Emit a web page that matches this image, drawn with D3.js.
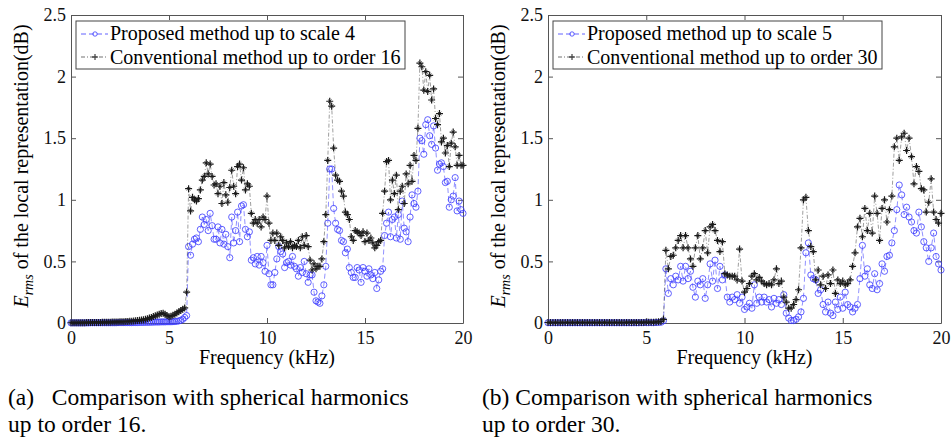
<!DOCTYPE html>
<html><head><meta charset="utf-8">
<script src="https://cdn.jsdelivr.net/npm/d3@7"></script>
<style>
body{margin:0;background:#fff}
svg{display:block}
</style>
</head><body>
<svg id="chart" width="951" height="440"></svg>
<script>
// ---------------- data ----------------
const freqA = d3.range(0, 201).map(i => i / 10);          // kHz, panel (a)
const proposedA = [
0.001,0.001,0.001,0.001,0.001,0.001,0.001,0.001,0.001,0.001,
0.002,0.002,0.002,0.002,0.002,0.002,0.002,0.002,0.002,0.002,
0.002,0.002,0.002,0.002,0.003,0.003,0.003,0.003,0.003,0.003,
0.003,0.003,0.004,0.004,0.004,0.005,0.005,0.005,0.006,0.006,
0.006,0.007,0.007,0.008,0.008,0.008,0.009,0.009,0.009,0.010,
0.010,0.010,0.011,0.012,0.014,0.017,0.022,0.030,0.045,0.060,
0.62,0.55,0.64,0.68,0.69,0.66,0.76,0.86,0.80,0.84,
0.75,0.89,0.79,0.68,0.68,0.78,0.65,0.76,0.64,0.72,
0.62,0.53,0.86,0.65,0.75,0.90,0.66,0.95,0.96,0.76,
0.70,0.74,0.51,0.53,0.48,0.54,0.47,0.54,0.49,0.42,
0.63,0.40,0.31,0.31,0.41,0.52,0.62,0.58,0.56,0.45,
0.49,0.50,0.47,0.54,0.46,0.44,0.38,0.45,0.41,0.50,
0.40,0.33,0.39,0.39,0.25,0.18,0.17,0.16,0.22,0.31,
0.46,0.81,1.25,1.25,0.93,0.81,0.76,0.75,0.67,0.66,
0.57,0.60,0.45,0.41,0.37,0.37,0.45,0.43,0.33,0.45,
0.42,0.38,0.44,0.39,0.36,0.41,0.28,0.35,0.42,0.44,
0.71,0.81,0.90,0.70,0.84,0.86,0.69,0.88,0.68,0.99,
0.77,0.74,0.66,0.86,1.04,0.97,0.94,1.07,1.50,1.48,
1.37,1.61,1.65,1.52,1.45,1.60,1.42,1.24,1.29,1.30,
1.27,1.14,1.15,0.94,1.00,1.03,1.18,0.91,0.99,0.92,
0.89];
const conventionalA = [
0.002,0.002,0.002,0.003,0.003,0.003,0.003,0.003,0.004,0.004,
0.004,0.004,0.005,0.005,0.005,0.005,0.006,0.006,0.006,0.007,
0.007,0.008,0.008,0.009,0.009,0.010,0.010,0.011,0.012,0.013,
0.014,0.015,0.017,0.018,0.020,0.022,0.024,0.027,0.030,0.034,
0.040,0.045,0.052,0.058,0.065,0.072,0.078,0.080,0.072,0.060,
0.050,0.055,0.062,0.072,0.082,0.092,0.102,0.112,0.122,0.25,
1.09,0.91,1.02,1.00,0.99,1.01,1.08,1.16,1.19,1.30,
1.21,1.29,1.19,1.12,1.13,1.05,1.11,0.97,1.14,1.04,
0.98,1.10,1.24,1.11,1.05,1.27,1.29,1.16,1.26,1.08,
1.13,1.11,0.89,0.81,0.84,0.81,0.84,0.78,0.86,0.84,
1.03,0.81,0.67,0.73,0.67,0.73,0.63,0.70,0.67,0.61,
0.65,0.62,0.66,0.61,0.63,0.62,0.67,0.61,0.70,0.63,
0.71,0.62,0.51,0.43,0.48,0.44,0.46,0.46,0.52,0.66,
0.88,1.32,1.80,1.76,1.42,1.20,1.16,1.15,1.07,1.03,
0.90,0.88,0.84,0.70,0.67,0.75,0.74,0.73,0.71,0.74,
0.66,0.73,0.67,0.69,0.65,0.61,0.63,0.66,0.67,0.89,
1.07,1.31,1.32,1.00,1.16,1.05,1.20,0.92,1.07,1.11,
0.97,1.21,1.13,1.28,1.15,1.36,1.32,1.58,2.11,2.08,
1.89,2.04,1.88,2.01,1.81,1.90,1.66,1.61,1.70,1.47,
1.50,1.38,1.44,1.27,1.46,1.55,1.43,1.28,1.36,1.28,
1.28];

const freqB = d3.range(0, 161).map(i => i * 0.125);      // kHz, panel (b)
const proposedB = [
0.002,0.002,0.002,0.002,0.002,0.002,0.002,0.002,0.002,0.002,
0.002,0.002,0.002,0.002,0.002,0.002,0.002,0.002,0.002,0.002,
0.002,0.002,0.002,0.002,0.002,0.002,0.002,0.002,0.002,0.002,
0.002,0.002,0.002,0.002,0.002,0.002,0.002,0.002,0.003,0.003,
0.003,0.003,0.003,0.003,0.004,0.005,0.006,0.018,
0.44,0.24,0.36,0.31,0.38,0.35,0.46,0.34,0.46,0.36,
0.42,0.29,0.21,0.34,0.31,0.36,0.20,0.31,0.48,0.34,
0.51,0.28,0.46,0.35,0.39,0.21,0.17,0.21,0.19,0.23,
0.16,0.21,0.11,0.13,0.16,0.12,0.31,0.16,0.21,0.17,
0.21,0.17,0.19,0.13,0.20,0.16,0.19,0.15,0.23,0.08,
0.04,0.02,0.02,0.03,0.05,0.09,0.20,0.57,0.65,0.39,
0.36,0.35,0.24,0.27,0.15,0.09,0.17,0.08,0.06,0.17,
0.11,0.21,0.12,0.25,0.15,0.13,0.09,0.12,0.15,0.36,
0.63,0.38,0.44,0.31,0.28,0.40,0.27,0.32,0.48,0.42,
0.54,0.55,0.65,0.75,0.92,1.12,1.04,0.88,0.94,0.86,
0.82,0.75,0.73,0.90,0.78,0.66,0.61,0.50,0.61,0.73,
0.54,0.48,0.43];
const conventionalB = [
0.004,0.004,0.004,0.004,0.004,0.004,0.004,0.004,0.004,0.004,
0.004,0.004,0.004,0.004,0.004,0.004,0.004,0.004,0.004,0.004,
0.004,0.004,0.004,0.004,0.004,0.004,0.004,0.004,0.004,0.004,
0.004,0.004,0.004,0.005,0.005,0.005,0.005,0.005,0.005,0.005,
0.006,0.006,0.006,0.007,0.008,0.010,0.012,0.030,
0.59,0.44,0.54,0.55,0.61,0.67,0.71,0.61,0.71,0.61,
0.52,0.46,0.61,0.71,0.52,0.61,0.75,0.57,0.78,0.80,
0.75,0.67,0.58,0.66,0.40,0.39,0.38,0.38,0.38,0.35,
0.60,0.34,0.25,0.28,0.32,0.38,0.40,0.35,0.37,0.34,
0.32,0.31,0.32,0.31,0.35,0.44,0.32,0.34,0.21,0.17,
0.12,0.12,0.15,0.19,0.27,0.61,1.00,1.02,0.75,0.62,
0.58,0.35,0.43,0.31,0.38,0.28,0.39,0.32,0.43,0.24,
0.35,0.32,0.34,0.31,0.32,0.35,0.46,0.57,0.78,0.85,
0.70,0.93,0.75,0.89,0.73,1.03,0.89,0.67,0.93,1.00,
0.82,0.92,1.03,1.43,1.50,1.32,1.51,1.54,1.40,1.50,
1.35,1.13,1.27,1.23,1.09,1.08,0.90,0.98,1.17,0.90,
0.84,0.81,0.89];

const xTicks = [0, 5, 10, 15, 20];
const yTicks = [0, 0.5, 1, 1.5, 2, 2.5];
const legendA = ["Proposed method up to scale 4", "Conventional method up to order 16"];
const legendB = ["Proposed method up to scale 5", "Conventional method up to order 30"];
const xLabel = "Frequency (kHz)";
const yLabelMain = "E";
const yLabelSub = "rms";
const yLabelRest = " of the local representation(dB)";
const captionA = ["(a)\u00a0\u00a0 Comparison with spherical harmonics", "up to order 16."];
const captionB = ["(b) Comparison with spherical harmonics", "up to order 30."];

// ---------------- font choice (serif, Times-like) ----------------
function hasFont(name) {
  const c = document.createElement("canvas").getContext("2d");
  const s = "mmmmmmmmmmlliWWQ0123456789";
  const res = [];
  for (const base of ["monospace", "sans-serif"]) {
    c.font = `72px ${base}`; const w0 = c.measureText(s).width;
    c.font = `72px "${name}", ${base}`; const w1 = c.measureText(s).width;
    res.push(w0 !== w1);
  }
  return res[0] || res[1];
}
const SERIF = ["Liberation Serif", "Times New Roman", "Tinos", "Times", "Nimbus Roman", "DejaVu Serif", "Noto Serif"]
  .find(hasFont) || "serif";
const FONT = `"${SERIF}", serif`;

// ---------------- drawing ----------------
const svg = d3.select("#chart");
const BLUE = "#3a3aff";
const DARK = "#1a1a1a";

function panel(o) {
  const g = svg.append("g");
  const x = d3.scaleLinear().domain([0, 20]).range([o.left, o.right]);
  const y = d3.scaleLinear().domain([0, 2.5]).range([o.bottom, o.top]);

  g.append("g").attr("transform", `translate(0,${o.bottom})`)
    .call(d3.axisBottom(x).tickValues(xTicks).tickSizeInner(-5).tickSizeOuter(0).tickPadding(8).tickFormat(d => d));
  g.append("g").attr("transform", `translate(${o.left},0)`)
    .call(d3.axisLeft(y).tickValues(yTicks).tickSizeInner(-5).tickSizeOuter(0).tickPadding(5).tickFormat(d => d));
  g.append("g").attr("transform", `translate(0,${o.top})`)
    .call(d3.axisTop(x).tickValues(xTicks).tickSizeInner(-5).tickSizeOuter(0).tickFormat(""));
  g.append("g").attr("transform", `translate(${o.right},0)`)
    .call(d3.axisRight(y).tickValues(yTicks).tickSizeInner(-5).tickSizeOuter(0).tickFormat(""));
  g.selectAll(".domain, .tick line").attr("stroke", "#555").attr("stroke-width", 1);
  g.selectAll(".tick text").attr("font-size", 18).attr("fill", "#111");

  const ptsP = o.freq.map((f, i) => [f, o.prop[i]]);
  const ptsC = o.freq.map((f, i) => [f, o.conv[i]]);
  const line = d3.line().x(d => x(d[0])).y(d => y(d[1]));

  g.append("path").attr("d", line(ptsP)).attr("fill", "none")
    .attr("stroke", BLUE).attr("stroke-width", 0.7).attr("stroke-dasharray", "5,3").attr("opacity", 0.8);
  g.append("g").selectAll("circle").data(ptsP).join("circle")
    .attr("cx", d => x(d[0])).attr("cy", d => y(d[1])).attr("r", 3.1)
    .attr("fill", "none").attr("stroke", BLUE).attr("stroke-width", 0.8);

  g.append("path").attr("d", line(ptsC)).attr("fill", "none")
    .attr("stroke", "#333").attr("stroke-width", 0.6).attr("stroke-dasharray", "4,2,1,2").attr("opacity", 0.8);
  const star = "M-3.5,0H3.5M0,-3.5V3.5";
  const xs = "M-1.8,-1.8L1.8,1.8M-1.8,1.8L1.8,-1.8";
  const mk = g.append("g").selectAll("g").data(ptsC).join("g")
    .attr("transform", d => `translate(${x(d[0])},${y(d[1])})`);
  mk.append("path").attr("d", star).attr("stroke", DARK).attr("stroke-width", 1.2);
  mk.append("path").attr("d", xs).attr("stroke", DARK).attr("stroke-width", 0.8);

  const lg = g.append("g");
  lg.append("rect").attr("x", o.lx).attr("y", 21).attr("width", 329).attr("height", 48)
    .attr("fill", "#fff").attr("stroke", "#444").attr("stroke-width", 1);
  lg.append("line").attr("x1", o.lx + 5).attr("x2", o.lx + 32).attr("y1", 34).attr("y2", 34)
    .attr("stroke", BLUE).attr("stroke-width", 0.8).attr("stroke-dasharray", "5,3");
  lg.append("circle").attr("cx", o.lx + 19).attr("cy", 34).attr("r", 2.2)
    .attr("fill", "none").attr("stroke", BLUE).attr("stroke-width", 0.8);
  lg.append("line").attr("x1", o.lx + 5).attr("x2", o.lx + 32).attr("y1", 57).attr("y2", 57)
    .attr("stroke", "#333").attr("stroke-width", 0.7).attr("stroke-dasharray", "4,2,1,2");
  lg.append("path").attr("d", "M-3,0H3M0,-3V3").attr("transform", `translate(${o.lx + 19},57)`)
    .attr("stroke", DARK).attr("stroke-width", 1);
  lg.selectAll("text").data(o.legend).join("text")
    .attr("x", o.lx + 34).attr("y", (d, i) => 40 + i * 23.5)
    .attr("font-size", 20).text(d => d);

  g.append("text").attr("x", (o.left + o.right) / 2).attr("y", 364)
    .attr("text-anchor", "middle").attr("font-size", 20).text(xLabel);
  const yl = g.append("text").attr("transform", `translate(${o.left - 43},${(o.top + o.bottom) / 2 - 3}) rotate(-90)`)
    .attr("text-anchor", "middle").attr("font-size", 20);
  yl.append("tspan").attr("font-style", "italic").text(yLabelMain);
  yl.append("tspan").attr("font-style", "italic").attr("font-size", 14).attr("dy", 5).text(yLabelSub);
  yl.append("tspan").attr("dy", -5).text(yLabelRest);

  g.selectAll("text.cap").data(o.caption).join("text").attr("class", "cap")
    .attr("x", o.cx).attr("y", (d, i) => 405 + i * 27)
    .attr("font-size", 23.5).text(d => d);
}

panel({left: 71, right: 463, top: 15, bottom: 323, freq: freqA, prop: proposedA, conv: conventionalA,
       legend: legendA, lx: 76, caption: captionA, cx: 8});
panel({left: 548, right: 941, top: 15, bottom: 323, freq: freqB, prop: proposedB, conv: conventionalB,
       legend: legendB, lx: 553, caption: captionB, cx: 482});

svg.selectAll("text").attr("font-family", FONT).style("font-family", FONT);
</script>
</body></html>
